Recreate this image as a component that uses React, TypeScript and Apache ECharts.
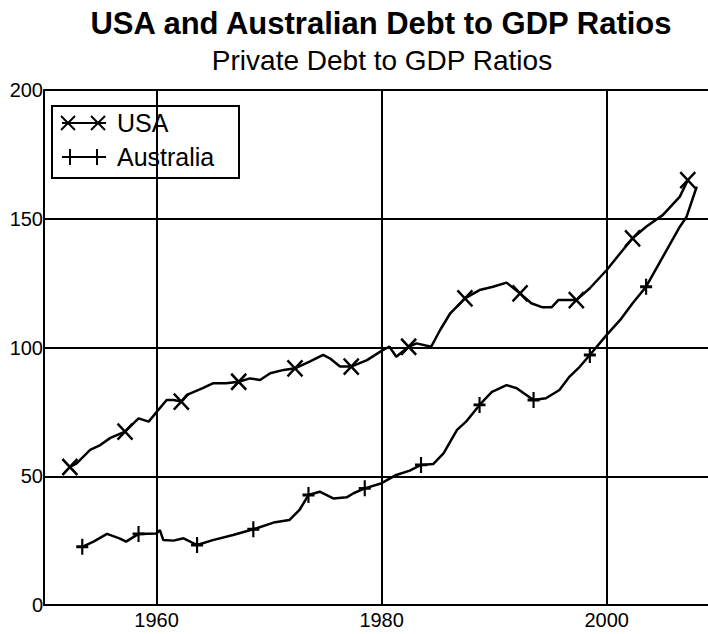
import React, { useEffect, useRef } from "react";
import * as echarts from "echarts";

const FONT = "'Liberation Sans', Arial, Helvetica, sans-serif";

const titleText = "USA and Australian Debt to GDP Ratios";
const subtitleText = "Private Debt to GDP Ratios";
const seriesNames = ["USA", "Australia"];
const xTickValues = [1960, 1980, 2000];

const usaYears = [
  1952.3, 1952.9, 1954.1, 1955.0, 1955.9, 1957.2, 1958.4, 1959.3, 1959.9, 1960.9,
  1961.5, 1962.2, 1962.7, 1964.1, 1965.0, 1966.2, 1967.3, 1968.3, 1969.2, 1970.1,
  1971.3, 1972.3, 1973.6, 1974.8, 1975.4, 1976.3, 1977.3, 1978.7, 1980.1, 1980.7,
  1981.3, 1982.4, 1983.1, 1984.4, 1985.2, 1986.1, 1987.4, 1988.7, 1989.9, 1991.1,
  1992.3, 1993.3, 1994.3, 1995.1, 1995.7, 1997.3, 1998.5, 2000.0, 2001.2, 2002.3,
  2003.5, 2005.0, 2006.5, 2007.2,
];
const usaValues = [
  53.6, 55.0, 60.2, 62.1, 64.9, 67.3, 72.5, 71.2, 74.4, 79.6,
  79.6, 79.0, 81.6, 84.2, 86.1, 86.1, 86.7, 88.0, 87.4, 90.0,
  91.3, 91.9, 94.5, 97.1, 95.8, 92.6, 92.6, 95.1, 99.0, 100.3,
  96.4, 100.3, 101.6, 100.3, 106.8, 113.3, 119.1, 122.3, 123.6, 125.2,
  121.0, 117.2, 115.6, 115.6, 118.4, 118.4, 123.0, 130.1, 136.6, 142.4,
  146.9, 151.5, 158.6, 165.0,
];
const usaMarkerYears = [1952.3, 1957.2, 1962.2, 1967.3, 1972.3, 1977.3, 1982.4, 1987.4, 1992.3, 1997.3, 2002.3, 2007.2];
const usaMarkerValues = [53.6, 67.3, 79.0, 86.7, 91.9, 92.6, 100.3, 119.1, 121.0, 118.4, 142.4, 165.0];

const ausYears = [
  1953.4, 1954.4, 1955.6, 1956.7, 1957.3, 1958.4, 1960.0, 1960.3, 1960.6, 1961.5,
  1962.4, 1963.6, 1965.0, 1966.8, 1968.6, 1970.4, 1971.8, 1972.7, 1973.5, 1974.5,
  1975.7, 1976.9, 1977.5, 1978.5, 1980.0, 1981.3, 1982.5, 1983.5, 1984.6, 1985.5,
  1986.7, 1987.5, 1988.7, 1989.8, 1991.1, 1992.0, 1993.5, 1994.6, 1995.8, 1996.7,
  1997.6, 1998.5, 2000.0, 2001.2, 2002.3, 2003.5, 2005.0, 2006.5, 2007.1, 2007.8,
  2008.0,
];
const ausValues = [
  22.6, 24.6, 27.6, 25.9, 24.6, 27.6, 27.8, 29.1, 25.2, 25.0,
  25.9, 23.3, 25.2, 27.2, 29.4, 32.0, 33.0, 36.9, 42.7, 44.0,
  41.4, 41.8, 43.4, 45.3, 47.3, 50.5, 52.2, 54.4, 54.8, 58.9,
  68.0, 71.2, 77.7, 82.8, 85.4, 84.2, 79.6, 80.3, 83.5, 88.7,
  92.5, 97.1, 104.9, 110.7, 117.2, 123.6, 135.3, 146.9, 150.8, 159.9,
  162.5,
];
const ausMarkerYears = [1953.4, 1958.4, 1963.6, 1968.6, 1973.5, 1978.5, 1983.5, 1988.7, 1993.5, 1998.5, 2003.5];
const ausMarkerValues = [22.6, 27.6, 23.3, 29.4, 42.7, 45.3, 54.4, 77.7, 79.6, 97.1, 123.6];

const zip = (xs: number[], ys: number[]) => xs.map((x, i) => [x, ys[i]]);

const X_PATH = "path://M0,0L16,16M16,0L0,16";
const PLUS_PATH = "path://M8,0L8,16M0,8L16,8";

export default function App() {
  const ref = useRef<HTMLDivElement>(null);

  useEffect(() => {
    if (!ref.current) return;
    const chart = echarts.init(ref.current, null, { renderer: "svg" });

    const black = "#000";
    const legendX = (cx: number, cy: number) => [
      { type: "line", shape: { x1: cx - 7, y1: cy - 7, x2: cx + 7, y2: cy + 7 }, style: { stroke: black, lineWidth: 2 } },
      { type: "line", shape: { x1: cx + 7, y1: cy - 7, x2: cx - 7, y2: cy + 7 }, style: { stroke: black, lineWidth: 2 } },
    ];
    const legendPlus = (cx: number, cy: number) => [
      { type: "line", shape: { x1: cx, y1: cy - 8, x2: cx, y2: cy + 8 }, style: { stroke: black, lineWidth: 2 } },
      { type: "line", shape: { x1: cx - 6, y1: cy, x2: cx + 6, y2: cy }, style: { stroke: black, lineWidth: 2 } },
    ];

    chart.setOption({
      animation: false,
      backgroundColor: "#fff",
      grid: { left: 44, right: 0, top: 90, bottom: 29, containLabel: false },
      xAxis: {
        type: "value",
        min: 1950,
        max: 2009,
        axisLine: { show: true, lineStyle: { color: black, width: 2 } },
        axisTick: { show: false, customValues: xTickValues },
        axisLabel: {
          customValues: xTickValues,
          formatter: (v: number) => String(v),
          color: black,
          fontSize: 20,
          fontFamily: FONT,
          margin: 5,
        },
        splitLine: { show: true, lineStyle: { color: black, width: 2 } },
      },
      yAxis: {
        type: "value",
        min: 0,
        max: 200,
        interval: 50,
        axisLine: { show: true, lineStyle: { color: black, width: 2 } },
        axisTick: { show: false },
        axisLabel: { color: black, fontSize: 20, fontFamily: FONT, margin: 1 },
        splitLine: { show: true, lineStyle: { color: black, width: 2 } },
      },
      series: [
        {
          name: seriesNames[0],
          type: "line",
          data: zip(usaYears, usaValues),
          showSymbol: false,
          symbol: "none",
          lineStyle: { color: black, width: 2.5 },
          z: 3,
        },
        {
          name: seriesNames[1],
          type: "line",
          data: zip(ausYears, ausValues),
          showSymbol: false,
          symbol: "none",
          lineStyle: { color: black, width: 2.5 },
          z: 3,
        },
        {
          name: seriesNames[0] + " markers",
          type: "scatter",
          data: zip(usaMarkerYears, usaMarkerValues),
          symbol: X_PATH,
          symbolSize: [15, 16],
          itemStyle: { color: black, borderColor: black, borderWidth: 2.5, opacity: 1 },
          z: 4,
        },
        {
          name: seriesNames[1] + " markers",
          type: "scatter",
          data: zip(ausMarkerYears, ausMarkerValues),
          symbol: PLUS_PATH,
          symbolSize: [12, 16],
          itemStyle: { color: black, borderColor: black, borderWidth: 2.5, opacity: 1 },
          z: 4,
        },
      ],
      graphic: [
        {
          type: "text",
          x: 381,
          y: 23,
          style: {
            text: titleText,
            fill: black,
            font: `bold 31px ${FONT}`,
            align: "center",
            verticalAlign: "middle",
          },
        },
        {
          type: "text",
          x: 382,
          y: 60,
          style: {
            text: subtitleText,
            fill: black,
            font: `28px ${FONT}`,
            align: "center",
            verticalAlign: "middle",
          },
        },
        {
          type: "group",
          z: 100,
          children: [
            {
              type: "rect",
              shape: { x: 52, y: 106, width: 187, height: 72 },
              style: { fill: "#fff", stroke: black, lineWidth: 2 },
            },
            { type: "line", shape: { x1: 62, y1: 123, x2: 106, y2: 123 }, style: { stroke: black, lineWidth: 2 } },
            ...legendX(68, 123),
            ...legendX(98, 123),
            {
              type: "text",
              x: 117,
              y: 123,
              style: { text: seriesNames[0], fill: black, font: `25px ${FONT}`, verticalAlign: "middle" },
            },
            { type: "line", shape: { x1: 62, y1: 157, x2: 106, y2: 157 }, style: { stroke: black, lineWidth: 2 } },
            ...legendPlus(70, 157),
            ...legendPlus(97, 157),
            {
              type: "text",
              x: 117,
              y: 157,
              style: { text: seriesNames[1], fill: black, font: `25px ${FONT}`, verticalAlign: "middle" },
            },
          ],
        },
      ],
    });

    return () => chart.dispose();
  }, []);

  return (
    <div
      ref={ref}
      style={{ position: "fixed", left: 0, top: 0, width: 708, height: 634, background: "#fff" }}
    />
  );
}
